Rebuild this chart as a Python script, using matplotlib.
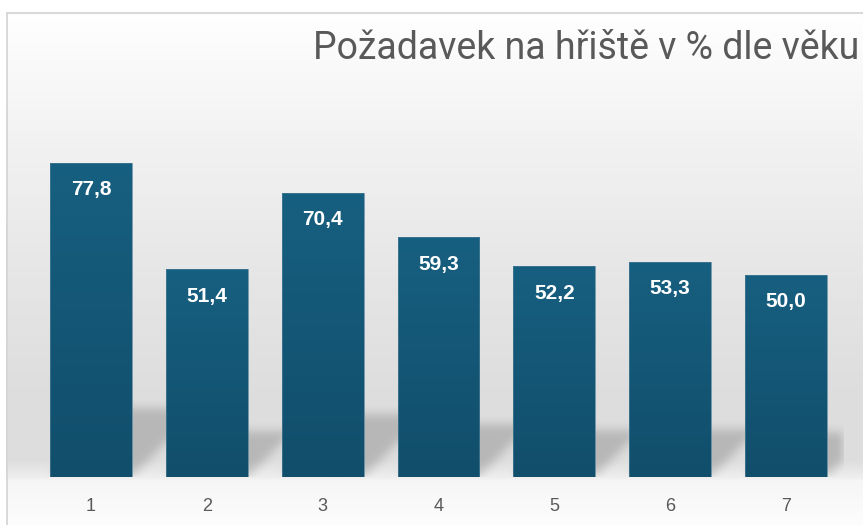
import matplotlib
matplotlib.use('Agg')
import matplotlib.pyplot as plt
import numpy as np
from matplotlib.colors import LinearSegmentedColormap

# data
categories = ['1', '2', '3', '4', '5', '6', '7']
values = [77.8, 51.4, 70.4, 59.3, 52.2, 53.3, 50.0]
labels = ['77,8', '51,4', '70,4', '59,3', '52,2', '53,3', '50,0']
title = 'Požadavek na hřiště v % dle věku'

W, H, DPI = 863, 525, 100
fig = plt.figure(figsize=(W / DPI, H / DPI), dpi=DPI, facecolor='white')


def box_blur(a, r, axis):
    k = np.ones(2 * r + 1) / (2 * r + 1)
    return np.apply_along_axis(lambda m: np.convolve(m, k, mode='same'), axis, a)


# background: grey wall gradient inside a light frame
bg = fig.add_axes([0, 0, 1, 1], zorder=0)
bg.set_axis_off()
rows = np.arange(H)
prof_y = [12, 100, 150, 300, 400, 460, 477, 481, 525]
prof_g = [255, 246, 241, 228, 221, 222, 238, 246, 253]
grey = np.interp(rows, prof_y, prof_g) / 255.0
img = np.ones((H, W, 3))
img[:, :, :] = grey[:, None, None]
img[:12, :, :] = 1.0
img[:, :6, :] = 1.0
bg.imshow(img, extent=(0, W, H, 0), aspect='auto', interpolation='bilinear')
bg.plot([6.5, W + 5], [12.5, 12.5], color='#d6d6d6', lw=1.3)
bg.plot([6.5, 6.5], [12.5, H + 5], color='#d6d6d6', lw=1.3)
bg.set_xlim(0, W)
bg.set_ylim(H, 0)

# main axes
left, right, bottom, top = 33, 844, 477, 73
ax = fig.add_axes([left / W, 1 - bottom / H, (right - left) / W, (bottom - top) / H], zorder=1)
ax.patch.set_alpha(0)
ymax = 100
x = np.arange(len(values))
width = 0.707
ax.set_xlim(-0.5, len(values) - 0.5)
ax.set_ylim(0, ymax)

# perspective shadow behind bars
nx, ny = right - left, bottom - top
xs = np.linspace(-0.5, len(values) - 0.5, nx)
ys = np.linspace(0, ymax, ny)
X, Y = np.meshgrid(xs, ys)
skew = (ny / ymax) / (nx / len(values))
mask = np.zeros_like(X)
for i, v in enumerate(values):
    h = 0.22 * v
    off = skew * 1.0 * Y
    inside = (Y <= h) & (X >= i - width / 2 + off) & (X <= i + width / 2 + off)
    mask[inside] = 1.0
for _ in range(2):
    mask = box_blur(mask, 5, 0)
    mask = box_blur(mask, 5, 1)
shadow = np.zeros((ny, nx, 4))
shadow[:, :, 3] = 0.17 * mask
ax.imshow(shadow, extent=(-0.5, len(values) - 0.5, 0, ymax), origin='lower',
          aspect='auto', interpolation='bilinear', zorder=1)

# bars with vertical gradient
cmap = LinearSegmentedColormap.from_list('bar', ['#114e6b', '#175f80'])
bars = ax.bar(x, values, width=width, color='none', edgecolor='#4a7d96', linewidth=0.5, zorder=3)
grad = np.linspace(0, 1, 256).reshape(-1, 1)
for bar in bars:
    x0, h = bar.get_x(), bar.get_height()
    im = ax.imshow(grad, extent=(x0, x0 + bar.get_width(), 0, h), origin='lower',
                   cmap=cmap, aspect='auto', zorder=2)
    im.set_clip_path(bar)

for xi, v, lab in zip(x, values, labels):
    ax.annotate(lab, (xi, v), xytext=(0, -27), textcoords='offset pixels',
                ha='center', va='center', color='white', fontsize=15,
                fontweight='bold', family='Liberation Sans', zorder=4)

ax.set_xticks(x)
ax.set_xticklabels(categories, fontsize=13, color='#595959', family='Liberation Sans')
ax.tick_params(axis='x', length=0, pad=15)
ax.set_yticks([])
for s in ax.spines.values():
    s.set_visible(False)

fig.text(859 / W, 1 - 59 / H, title, ha='right', va='baseline', fontsize=27,
         color='#595959', family=['Roboto', 'DejaVu Sans'])

fig.savefig('out.png', dpi=DPI, facecolor='white')
